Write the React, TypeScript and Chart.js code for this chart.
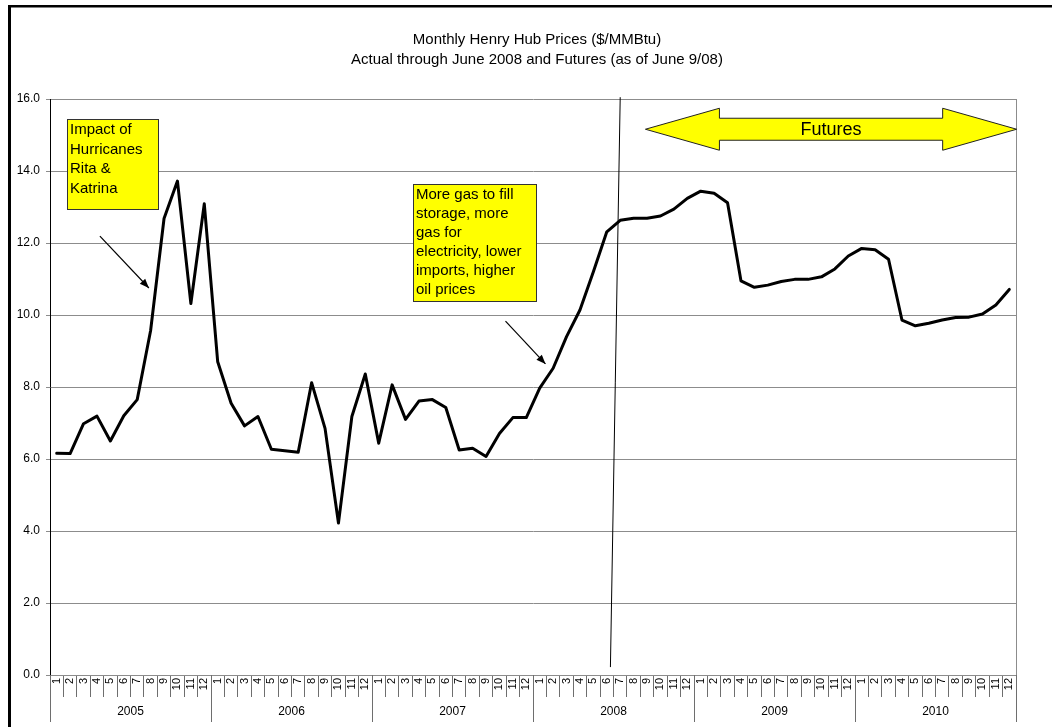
import React, { useEffect, useRef } from "react";
import { Chart, registerables } from "chart.js";

Chart.register(...registerables);

// Monthly Henry Hub prices, $/MMBtu (actual through mid-2008, futures afterwards)
const YEARS = ["2005", "2006", "2007", "2008", "2009", "2010"];
const MONTHS = ["1", "2", "3", "4", "5", "6", "7", "8", "9", "10", "11", "12"];

const PRICES_2005 = [6.16, 6.15, 6.98, 7.19, 6.5, 7.2, 7.65, 9.57, 12.68, 13.72, 10.32, 13.09];
const PRICES_2006 = [8.7, 7.55, 6.92, 7.18, 6.27, 6.23, 6.19, 8.12, 6.85, 4.22, 7.18, 8.36];
const PRICES_2007 = [6.44, 8.06, 7.1, 7.61, 7.65, 7.43, 6.25, 6.3, 6.07, 6.71, 7.15, 7.15];
const PRICES_2008 = [7.97, 8.52, 9.4, 10.14, 11.2, 12.31, 12.63, 12.69, 12.69, 12.75, 12.94, 13.24];
const PRICES_2009 = [13.44, 13.38, 13.12, 10.95, 10.77, 10.83, 10.93, 10.99, 10.99, 11.06, 11.28, 11.64];
const PRICES_2010 = [11.85, 11.81, 11.55, 9.86, 9.7, 9.77, 9.86, 9.93, 9.94, 10.03, 10.28, 10.71];

const TITLE_LINES = [
  "Monthly Henry Hub Prices ($/MMBtu)",
  "Actual through June 2008 and Futures (as of June 9/08)",
];

const HURRICANE_NOTE = ["Impact of", "Hurricanes", "Rita &", "Katrina"];
const STORAGE_NOTE = [
  "More gas to fill",
  "storage, more",
  "gas for",
  "electricity, lower",
  "imports, higher",
  "oil prices",
];
const FUTURES_LABEL = "Futures";

const FONT = "Arial, 'Liberation Sans', sans-serif";

const labels: string[] = [];
YEARS.forEach(() => MONTHS.forEach((m) => labels.push(m)));
const prices = [
  ...PRICES_2005,
  ...PRICES_2006,
  ...PRICES_2007,
  ...PRICES_2008,
  ...PRICES_2009,
  ...PRICES_2010,
];

function arrowLine(ctx: CanvasRenderingContext2D, x1: number, y1: number, x2: number, y2: number) {
  ctx.save();
  ctx.strokeStyle = "#000";
  ctx.fillStyle = "#000";
  ctx.lineWidth = 1.2;
  ctx.beginPath();
  ctx.moveTo(x1, y1);
  ctx.lineTo(x2, y2);
  ctx.stroke();
  const a = Math.atan2(y2 - y1, x2 - x1);
  const len = 10;
  const w = 0.38;
  ctx.beginPath();
  ctx.moveTo(x2, y2);
  ctx.lineTo(x2 - len * Math.cos(a - w), y2 - len * Math.sin(a - w));
  ctx.lineTo(x2 - len * Math.cos(a + w), y2 - len * Math.sin(a + w));
  ctx.closePath();
  ctx.fill();
  ctx.restore();
}

function noteBox(
  ctx: CanvasRenderingContext2D,
  x: number,
  y: number,
  w: number,
  h: number,
  lines: string[],
  lineH: number
) {
  ctx.save();
  ctx.fillStyle = "#ffff00";
  ctx.fillRect(x, y, w, h);
  ctx.strokeStyle = "#333";
  ctx.lineWidth = 1;
  ctx.strokeRect(x + 0.5, y + 0.5, w, h);
  ctx.fillStyle = "#000";
  ctx.font = `15px ${FONT}`;
  ctx.textAlign = "left";
  ctx.textBaseline = "alphabetic";
  lines.forEach((t, i) => ctx.fillText(t, x + 3, y + 15 + i * lineH));
  ctx.restore();
}

const decorPlugin = {
  id: "decor",
  beforeDraw(chart: any) {
    const { ctx, width, height } = chart;
    ctx.save();
    ctx.fillStyle = "#fff";
    ctx.fillRect(0, 0, width, height);
    ctx.restore();
  },
  afterDatasetsDraw(chart: any) {
    const { ctx, chartArea } = chart;
    const xs = chart.scales.x;
    const ys = chart.scales.y;
    const px = (i: number) => xs.getPixelForValue(i);
    const py = (v: number) => ys.getPixelForValue(v);

    ctx.save();
    // outer frame
    ctx.fillStyle = "#000";
    ctx.fillRect(8, 5, 3, chart.height - 5);
    ctx.fillRect(8, 5, 1044, 2.5);

    // titles
    ctx.font = `15px ${FONT}`;
    ctx.textAlign = "center";
    ctx.textBaseline = "middle";
    ctx.fillText(TITLE_LINES[0], 537, 40);
    ctx.fillText(TITLE_LINES[1], 537, 60);

    // right edge of the plot area
    ctx.strokeStyle = "#8c8c8c";
    ctx.lineWidth = 1;
    ctx.beginPath();
    ctx.moveTo(Math.round(chartArea.right) + 0.5, chartArea.top);
    ctx.lineTo(Math.round(chartArea.right) + 0.5, chartArea.bottom);
    ctx.stroke();

    // year group separators and year labels
    ctx.strokeStyle = "#6e6e6e";
    const bottom = chartArea.bottom;
    for (let g = 0; g <= YEARS.length; g++) {
      const x = Math.round(px(g * 12 - 0.5)) + 0.5;
      ctx.beginPath();
      ctx.moveTo(x, bottom);
      ctx.lineTo(x, bottom + 47);
      ctx.stroke();
    }
    ctx.fillStyle = "#000";
    ctx.font = `12px ${FONT}`;
    ctx.textBaseline = "middle";
    YEARS.forEach((yr, g) => {
      ctx.fillText(yr, (px(g * 12 - 0.5) + px(g * 12 + 11.5)) / 2, bottom + 37);
    });

    // divider between actual prices and futures
    ctx.strokeStyle = "#000";
    ctx.lineWidth = 1;
    ctx.beginPath();
    ctx.moveTo(px(42), py(16.05));
    ctx.lineTo(px(41.27), py(0.22));
    ctx.stroke();

    // callout arrows
    arrowLine(ctx, px(3.22), py(12.19), px(6.87), py(10.75));
    arrowLine(ctx, px(33.45), py(9.83), px(36.43), py(8.64));

    // note boxes
    noteBox(ctx, Math.round(px(0.77)), Math.round(py(15.44)), 91, 90, HURRICANE_NOTE, 19.5);
    noteBox(ctx, Math.round(px(26.53)), Math.round(py(13.64)), 123, 117, STORAGE_NOTE, 19);

    // double-headed "Futures" arrow
    const lx = px(43.88);
    const rx = px(71.55);
    const cy = py(15.16);
    const head = 74;
    const hh = 21;
    const sh = 11;
    ctx.beginPath();
    ctx.moveTo(lx, cy);
    ctx.lineTo(lx + head, cy - hh);
    ctx.lineTo(lx + head, cy - sh);
    ctx.lineTo(rx - head, cy - sh);
    ctx.lineTo(rx - head, cy - hh);
    ctx.lineTo(rx, cy);
    ctx.lineTo(rx - head, cy + hh);
    ctx.lineTo(rx - head, cy + sh);
    ctx.lineTo(lx + head, cy + sh);
    ctx.lineTo(lx + head, cy + hh);
    ctx.closePath();
    ctx.fillStyle = "#ffff00";
    ctx.fill();
    ctx.strokeStyle = "#222";
    ctx.lineWidth = 1;
    ctx.stroke();
    ctx.fillStyle = "#000";
    ctx.font = `18px ${FONT}`;
    ctx.textAlign = "center";
    ctx.textBaseline = "middle";
    ctx.fillText(FUTURES_LABEL, (lx + rx) / 2, cy + 1);
    ctx.restore();
  },
};

export default function App() {
  const canvasRef = useRef<HTMLCanvasElement | null>(null);

  useEffect(() => {
    if (!canvasRef.current) return;
    const chart = new Chart(canvasRef.current, {
      type: "line",
      data: {
        labels,
        datasets: [
          {
            data: prices,
            borderColor: "#000",
            borderWidth: 3,
            borderJoinStyle: "round",
            borderCapStyle: "round",
            pointRadius: 0,
            tension: 0,
            fill: false,
          },
        ],
      },
      options: {
        responsive: false,
        animation: false,
        layout: { padding: { top: 99, right: 41, left: 0, bottom: 0 } },
        plugins: {
          legend: { display: false },
          title: { display: false },
          tooltip: { enabled: false },
        },
        scales: {
          x: {
            type: "category",
            offset: true,
            grid: {
              display: true,
              offset: true,
              drawOnChartArea: false,
              drawTicks: true,
              tickLength: 22,
              color: "#6e6e6e",
            },
            border: { color: "#8c8c8c", width: 1 },
            ticks: {
              autoSkip: false,
              minRotation: 90,
              maxRotation: 90,
              padding: -19,
              color: "#000",
              font: { family: FONT, size: 11 },
            },
            afterFit: (s: any) => {
              s.height = 52;
            },
          },
          y: {
            min: 0,
            max: 16,
            grid: { color: "#8c8c8c", tickLength: 4, drawTicks: true },
            border: { color: "#000", width: 1 },
            ticks: {
              stepSize: 2,
              padding: 6,
              color: "#000",
              font: { family: FONT, size: 12 },
              callback: (v: any) => Number(v).toFixed(1),
            },
            afterFit: (s: any) => {
              s.width = 50;
            },
          },
        },
      },
      plugins: [decorPlugin],
    });
    return () => chart.destroy();
  }, []);

  return (
    <div style={{ position: "fixed", left: 0, top: 0, width: 1057, height: 727, background: "#fff" }}>
      <canvas ref={canvasRef} width={1057} height={727} style={{ display: "block" }} />
    </div>
  );
}
